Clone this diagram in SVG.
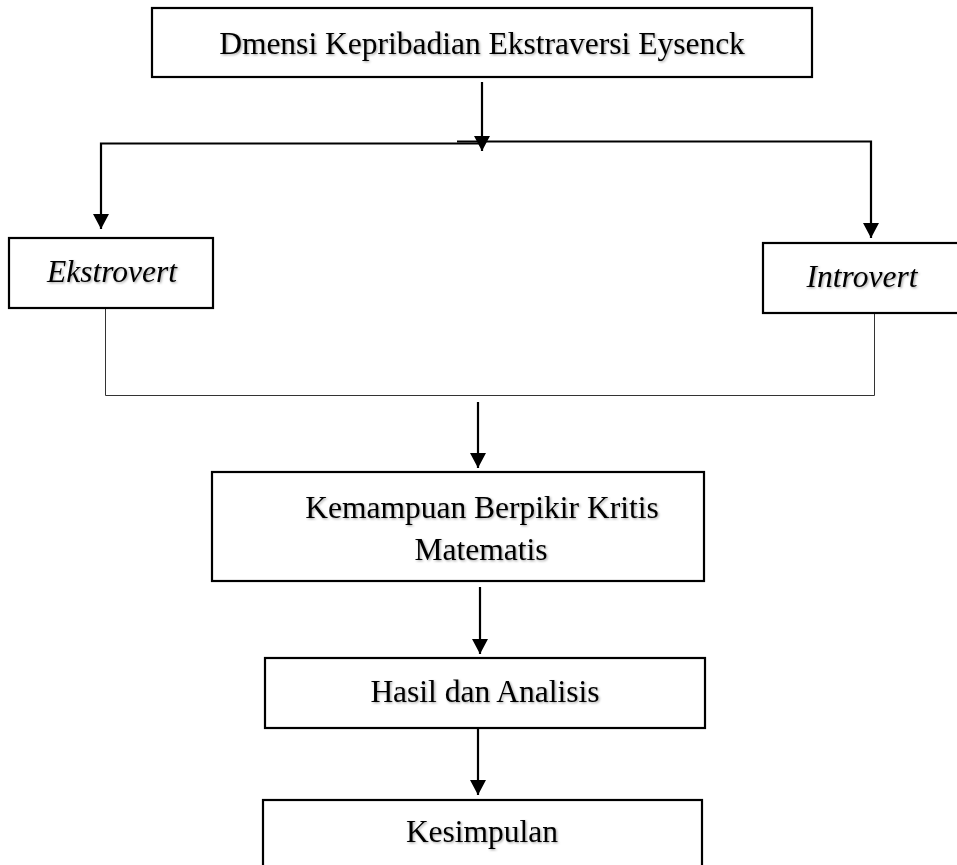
<svg xmlns="http://www.w3.org/2000/svg" width="957" height="865" viewBox="0 0 957 865">
  <style>
    .box { fill: #ffffff; stroke: #000000; stroke-width: 2.2; }
    .lbl { font-family: "Liberation Serif", "Times New Roman", serif; font-size: 31.5px; fill: #000000; text-anchor: middle; }
    .it { font-style: italic; }
    .conn { fill: none; stroke: #000000; stroke-width: 2.2; }
    .thin { fill: none; stroke: #333333; stroke-width: 1; }
  </style>
  <defs>
    <marker id="arrow" viewBox="0 0 15 16" refX="15" refY="8" markerWidth="15" markerHeight="16" markerUnits="userSpaceOnUse" orient="auto">
      <path d="M0,0 L15,8 L0,16 z" fill="#000000"/>
    </marker>
    <filter id="shadow" x="-5%" y="-20%" width="110%" height="140%">
      <feDropShadow dx="1.2" dy="1.2" stdDeviation="0.8" flood-color="#000000" flood-opacity="0.35"/>
    </filter>
  </defs>

  <g id="connectors">
    <line class="conn" x1="482" y1="82" x2="482" y2="151" marker-end="url(#arrow)"/>
    <polyline class="conn" points="482,143.5 101,143.5 101,229" marker-end="url(#arrow)"/>
    <polyline class="conn" points="457,141.5 871,141.5 871,238" marker-end="url(#arrow)"/>
    <polyline class="thin" points="105.5,308 105.5,395.5 874.5,395.5 874.5,313"/>
    <line class="conn" x1="478" y1="402" x2="478" y2="468" marker-end="url(#arrow)"/>
    <line class="conn" x1="480" y1="587" x2="480" y2="654" marker-end="url(#arrow)"/>
    <line class="conn" x1="478" y1="729" x2="478" y2="795" marker-end="url(#arrow)"/>
  </g>

  <g id="node-dimensi">
    <rect class="box" x="152" y="8" width="660" height="69"/>
    <text class="lbl" x="482" y="54" filter="url(#shadow)">Dmensi Kepribadian Ekstraversi Eysenck</text>
  </g>

  <g id="node-ekstrovert">
    <rect class="box" x="9" y="238" width="204" height="70"/>
    <text class="lbl it" x="112" y="282" filter="url(#shadow)">Ekstrovert</text>
  </g>

  <g id="node-introvert">
    <rect class="box" x="763" y="243" width="200" height="70"/>
    <text class="lbl it" x="862" y="287" filter="url(#shadow)">Introvert</text>
  </g>

  <g id="node-kemampuan">
    <rect class="box" x="212" y="472" width="492" height="109"/>
    <text class="lbl" x="482" y="518" filter="url(#shadow)">Kemampuan Berpikir Kritis</text>
    <text class="lbl" x="481" y="560" filter="url(#shadow)">Matematis</text>
  </g>

  <g id="node-hasil">
    <rect class="box" x="265" y="658" width="440" height="70"/>
    <text class="lbl" x="485" y="702" filter="url(#shadow)">Hasil dan Analisis</text>
  </g>

  <g id="node-kesimpulan">
    <rect class="box" x="263" y="800" width="439" height="75"/>
    <text class="lbl" x="482" y="842" filter="url(#shadow)">Kesimpulan</text>
  </g>
</svg>
